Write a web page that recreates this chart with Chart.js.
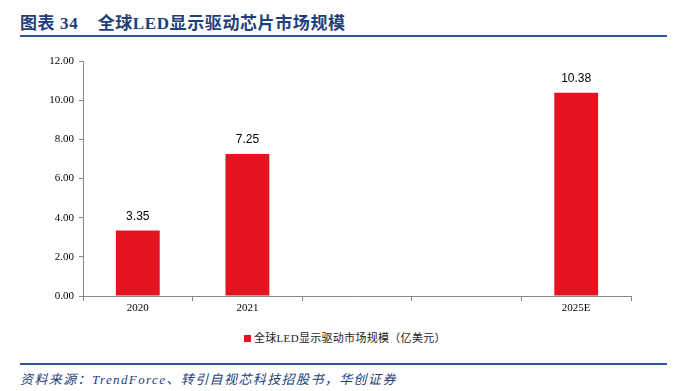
<!DOCTYPE html>
<html>
<head>
<meta charset="utf-8">
<script src="https://cdn.jsdelivr.net/npm/chart.js@4"></script>
<style>
    html, body { margin: 0; padding: 0; background: #fff; }
    #page { position: relative; width: 689px; height: 391px; overflow: hidden; }
    #title {
        position: absolute; left: 20px; top: 9px;
        font-family: "Liberation Serif", "Noto Sans CJK SC", serif;
        font-weight: bold; font-size: 17px; color: #1F3F7A; white-space: pre;
        letter-spacing: 0.6px;
    }
    .rule { position: absolute; left: 20px; width: 647px; height: 2px; background: #2E5596; }
    #chartBox { position: absolute; left: 0; top: 40px; width: 689px; height: 280px; }
    #legend {
        position: absolute; left: 244px; top: 329px;
        font-family: "Liberation Serif", "Noto Sans CJK SC", serif;
        font-size: 11px; color: #222; white-space: nowrap; letter-spacing: 0.3px;
    }
    #legend .box { display: inline-block; width: 7px; height: 7px; margin-right: 3px; vertical-align: 0px; }
    #source {
        position: absolute; left: 20px; top: 369px;
        font-family: "Liberation Serif", "Noto Sans CJK SC", serif;
        font-style: italic; font-size: 13px; color: #1F3F7A; white-space: nowrap;
        letter-spacing: 1.4px;
    }
</style>
</head>
<body>
<div id="page">
    <div id="title">图表 34    全球LED显示驱动芯片市场规模</div>
    <div class="rule" style="top:35px"></div>
    <div id="chartBox"><canvas id="chart" width="689" height="280"></canvas></div>
    <div id="legend"></div>
    <div class="rule" style="top:363px"></div>
    <div id="source">资料来源：TrendForce、转引自视芯科技招股书，华创证券</div>
</div>
<script>
// data
const categories = ["2020", "2021", "", "", "2025E"];
const marketSize = [3.35, 7.25, null, null, 10.38];
const seriesName = "全球LED显示驱动市场规模（亿美元）";
const barColor = "#E3141F";

// value labels above bars
const valueLabels = {
    id: "valueLabels",
    afterDatasetsDraw(chart) {
        const ctx = chart.ctx;
        const meta = chart.getDatasetMeta(0);
        ctx.save();
        ctx.font = "12px 'Liberation Sans', Arial, sans-serif";
        ctx.fillStyle = "#000";
        ctx.textAlign = "center";
        ctx.textBaseline = "bottom";
        meta.data.forEach((bar, i) => {
            const v = marketSize[i];
            if (v == null) return;
            ctx.fillText(v.toFixed(2), bar.x, bar.y - 8);
        });
        ctx.restore();
    }
};

const serif = "'Liberation Serif', 'Times New Roman', serif";

new Chart(document.getElementById("chart"), {
    type: "bar",
    data: {
        labels: categories,
        datasets: [{
            label: seriesName,
            data: marketSize,
            backgroundColor: barColor,
            barPercentage: 0.4,
            categoryPercentage: 1.0
        }]
    },
    options: {
        responsive: false,
        animation: false,
        layout: { padding: { left: 0, right: 58, top: 21, bottom: 0 } },
        plugins: {
            legend: { display: false },
            tooltip: { enabled: false }
        },
        scales: {
            x: {
                grid: {
                    offset: true,
                    drawOnChartArea: false,
                    drawTicks: true,
                    tickLength: 5,
                    color: "#888"
                },
                border: { color: "#888", width: 1 },
                ticks: {
                    color: "#000",
                    padding: 1,
                    font: { family: serif, size: 11 }
                },
                afterFit(scale) { scale.height = 24; }
            },
            y: {
                min: 0,
                max: 12,
                grid: {
                    drawOnChartArea: false,
                    drawTicks: true,
                    tickLength: 4,
                    color: "#888"
                },
                border: { color: "#888", width: 1 },
                ticks: {
                    stepSize: 2,
                    color: "#000",
                    padding: 5,
                    font: { family: serif, size: 11 },
                    callback: (v) => Number(v).toFixed(2)
                },
                afterFit(scale) { scale.width = 83; }
            }
        }
    },
    plugins: [valueLabels]
});

// legend
const legend = document.getElementById("legend");
legend.innerHTML = `<span class="box" style="background:${barColor}"></span>${seriesName}`;
</script>
</body>
</html>
